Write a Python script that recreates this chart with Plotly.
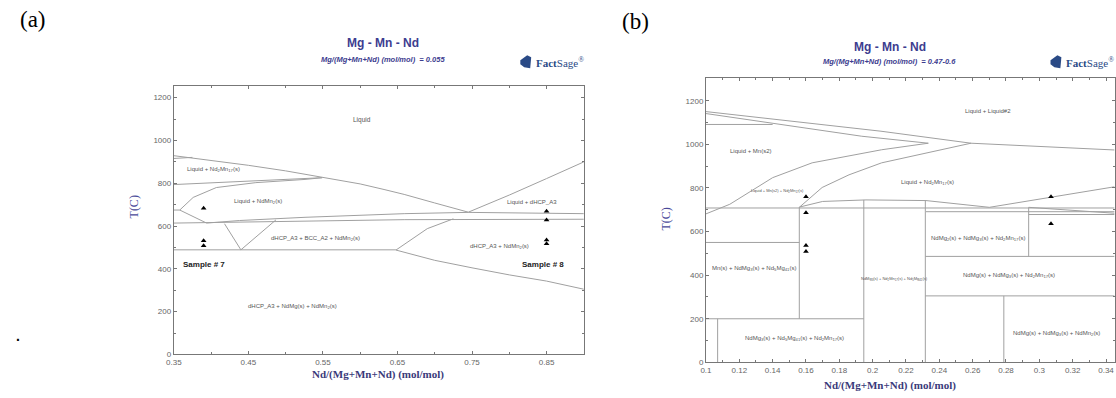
import plotly.graph_objects as go

W, H = 1116, 398
LINE = "#a0a0a0"
BLUE = "#3d3d8f"

# ---------------- Panel (a): Mg/(Mg+Mn+Nd) = 0.055 ----------------
a_liq_x = [0.35, 0.40, 0.45, 0.50, 0.55, 0.60, 0.632, 0.659, 0.70, 0.745]
a_liq_T = [929, 908, 884, 858, 828, 797, 771, 748, 708, 665]
a_rise_x = [0.745, 0.80, 0.85, 0.90]
a_rise_T = [665, 745, 822, 900]
a_short_x = [0.35, 0.375]
a_short_T = [916, 921]
a_l2_x = [0.35, 0.45, 0.549]
a_l2_T = [794, 811, 826]
a_l3_x = [0.358, 0.376, 0.407, 0.460, 0.526, 0.549]
a_l3_T = [675, 734, 780, 803, 818, 826]
a_l4_x = [0.35, 0.358, 0.394]
a_l4_T = [675, 675, 614]
a_l5_x = [0.394, 0.438, 0.526, 0.659, 0.745, 0.90]
a_l5_T = [614, 626, 641, 658, 664, 658]
a_l6_x = [0.35, 0.659, 0.90]
a_l6_T = [614, 630, 632]
a_v_x = [0.418, 0.440, 0.487]
a_v_T = [611, 489, 629]
a_l7_x = [0.35, 0.648]
a_l7_T = [489, 489]
a_up_x = [0.648, 0.668, 0.690, 0.725]
a_up_T = [488, 534, 588, 634]
a_lo_x = [0.648, 0.70, 0.75, 0.80, 0.85, 0.90]
a_lo_T = [488, 440, 405, 372, 343, 305]

a_lines = [(a_liq_x, a_liq_T), (a_rise_x, a_rise_T), (a_short_x, a_short_T),
           (a_l2_x, a_l2_T), (a_l3_x, a_l3_T), (a_l4_x, a_l4_T),
           (a_l5_x, a_l5_T), (a_l6_x, a_l6_T), (a_v_x, a_v_T),
           (a_l7_x, a_l7_T), (a_up_x, a_up_T), (a_lo_x, a_lo_T)]

a_pts_x = [0.39, 0.39, 0.39, 0.85, 0.85, 0.85, 0.85]
a_pts_T = [683, 531, 508, 669, 628, 535, 517]

a_labels = [
    ("Liquid", 0.603, 1094, 6.5, False),
    ("Liquid + Nd<sub>2</sub>Mn<sub>17</sub>(s)", 0.403, 863, 6, False),
    ("Liquid + NdMn<sub>2</sub>(s)", 0.463, 715, 6, False),
    ("dHCP_A3 + BCC_A2 + NdMn<sub>2</sub>(s)", 0.54, 540, 6, False),
    ("Sample # 7", 0.391, 420, 8, True),
    ("Liquid + dHCP_A3", 0.831, 711, 6, False),
    ("dHCP_A3 + NdMn<sub>2</sub>(s)", 0.787, 503, 6, False),
    ("Sample # 8", 0.845, 420, 8, True),
    ("dHCP_A3 + NdMg(s) + NdMn<sub>2</sub>(s)", 0.509, 222, 6, False),
]

# ---------------- Panel (b): Mg/(Mg+Mn+Nd) = 0.47-0.6 ----------------
b_top1_x = [0.10, 0.205, 0.259, 0.345]
b_top1_T = [1150, 1060, 1005, 974]
b_top2_x = [0.10, 0.1935, 0.2334]
b_top2_T = [1141, 1037, 1005]
b_top3_x = [0.10, 0.14]
b_top3_T = [1091, 1091]
b_mn_x = [0.10, 0.1143, 0.14, 0.1637, 0.2054, 0.2334]
b_mn_T = [681, 725, 847, 915, 975, 1005]
b_nd_x = [0.156, 0.1697, 0.1858, 0.2054, 0.259]
b_nd_T = [711, 802, 860, 915, 1005]
b_h708_x = [0.10, 0.345]
b_h708_T = [708, 708]
b_arch_x = [0.156, 0.17, 0.196, 0.232, 0.27, 0.345]
b_arch_T = [712, 738, 745, 742, 711, 805]
b_h691_x = [0.232, 0.345]
b_h691_T = [691, 691]
b_h680_x = [0.2936, 0.345]
b_h680_T = [678, 678]
b_br_x = [0.2936, 0.345]
b_br_T = [711, 684]
b_v1_x = [0.156, 0.156]
b_v1_T = [712, 200]
b_h550_x = [0.10, 0.156]
b_h550_T = [550, 550]
b_v2_x = [0.1947, 0.1947]
b_v2_T = [745, 0]
b_h200_x = [0.10, 0.1947]
b_h200_T = [200, 200]
b_v3_x = [0.107, 0.107]
b_v3_T = [200, 0]
b_v4_x = [0.2316, 0.2316]
b_v4_T = [742, 0]
b_h486_x = [0.2316, 0.345]
b_h486_T = [486, 486]
b_v5_x = [0.2936, 0.2936]
b_v5_T = [711, 486]
b_h305_x = [0.2316, 0.345]
b_h305_T = [305, 305]
b_v6_x = [0.2787, 0.2787]
b_v6_T = [305, 0]

b_lines = [(b_top1_x, b_top1_T), (b_top2_x, b_top2_T), (b_top3_x, b_top3_T),
           (b_mn_x, b_mn_T), (b_nd_x, b_nd_T), (b_h708_x, b_h708_T),
           (b_arch_x, b_arch_T), (b_h691_x, b_h691_T), (b_h680_x, b_h680_T),
           (b_br_x, b_br_T),
           (b_v1_x, b_v1_T), (b_h550_x, b_h550_T), (b_v2_x, b_v2_T),
           (b_h200_x, b_h200_T), (b_v3_x, b_v3_T), (b_v4_x, b_v4_T),
           (b_h486_x, b_h486_T), (b_v5_x, b_v5_T), (b_h305_x, b_h305_T),
           (b_v6_x, b_v6_T)]

b_pts_x = [0.16, 0.16, 0.16, 0.16, 0.307, 0.307]
b_pts_T = [759, 686, 536, 509, 759, 636]

b_labels = [
    ("Liquid + Liquid#2", 0.269, 1154, 6, False),
    ("Liquid + Mn(s2)", 0.127, 968, 6, False),
    ("Liquid + Mn(s2) + Nd<sub>2</sub>Mn<sub>17</sub>(s)", 0.143, 786, 4, False),
    ("Liquid + Nd<sub>2</sub>Mn<sub>17</sub>(s)", 0.233, 827, 6, False),
    ("NdMg<sub>2</sub>(s) + NdMg<sub>3</sub>(s) + Nd<sub>2</sub>Mn<sub>17</sub>(s)", 0.263, 568, 6, False),
    ("NdMg(s) + NdMg<sub>3</sub>(s) + Nd<sub>2</sub>Mn<sub>17</sub>(s)", 0.282, 400, 6, False),
    ("Mn(s) + NdMg<sub>3</sub>(s) + Nd<sub>5</sub>Mg<sub>41</sub>(s)", 0.129, 432, 6, False),
    ("NdMg<sub>3</sub>(s) + Nd<sub>2</sub>Mn<sub>17</sub>(s) + Nd<sub>5</sub>Mg<sub>41</sub>(s)", 0.213, 382, 4, False),
    ("NdMg<sub>3</sub>(s) + Nd<sub>5</sub>Mg<sub>41</sub>(s) + Nd<sub>2</sub>Mn<sub>17</sub>(s)", 0.153, 109, 6, False),
    ("NdMg(s) + NdMg<sub>3</sub>(s) + NdMn<sub>2</sub>(s)", 0.31, 132, 6, False),
]

a_xticks = [0.35, 0.45, 0.55, 0.65, 0.75, 0.85]
b_xticks = [0.10, 0.12, 0.14, 0.16, 0.18, 0.20, 0.22, 0.24, 0.26, 0.28, 0.30, 0.32, 0.34]
y_ticks = [0, 200, 400, 600, 800, 1000, 1200]

fig = go.Figure()

for (xs, ts) in a_lines:
    fig.add_trace(go.Scatter(x=xs, y=ts, mode="lines", line=dict(color=LINE, width=1),
                             xaxis="x", yaxis="y", showlegend=False, hoverinfo="skip"))
for (xs, ts) in b_lines:
    fig.add_trace(go.Scatter(x=xs, y=ts, mode="lines", line=dict(color=LINE, width=1),
                             xaxis="x2", yaxis="y2", showlegend=False, hoverinfo="skip"))
fig.add_trace(go.Scatter(x=a_pts_x, y=a_pts_T, mode="markers", xaxis="x", yaxis="y",
                         marker=dict(symbol="triangle-up", size=5, color="black"),
                         showlegend=False))
fig.add_trace(go.Scatter(x=b_pts_x, y=b_pts_T, mode="markers", xaxis="x2", yaxis="y2",
                         marker=dict(symbol="triangle-up", size=5, color="black"),
                         showlegend=False))

ann = []
for (t, x, y, s, b) in a_labels:
    ann.append(dict(text=("<b>%s</b>" % t) if b else t, x=x, y=y, xref="x", yref="y",
                    showarrow=False, xanchor="center", yanchor="middle",
                    font=dict(family="Arial", size=s, color="#222" if b else "#555")))
for (t, x, y, s, b) in b_labels:
    ann.append(dict(text=t, x=x, y=y, xref="x2", yref="y2", showarrow=False,
                    xanchor="center", yanchor="middle",
                    font=dict(family="Arial", size=s, color="#555")))


def pp(px, py):
    return px / W, 1 - py / H


def paper_ann(text, px, py, size, color, family="Arial", **kw):
    x, y = pp(px, py)
    d = dict(text=text, x=x, y=y, xref="paper", yref="paper", showarrow=False,
             xanchor="center", yanchor="middle",
             font=dict(family=family, size=size, color=color))
    d.update(kw)
    ann.append(d)


paper_ann("(a)", 25, 20, 23, "black", family="Liberation Serif")
paper_ann("(b)", 632, 22, 23, "black", family="Liberation Serif")
paper_ann("<b>Mg - Mn - Nd</b>", 378, 44, 12, BLUE)
paper_ann("<b><i>Mg/(Mg+Mn+Nd) (mol/mol)  = 0.055</i></b>", 378, 60, 7.5, BLUE)
paper_ann("<b>Mg - Mn - Nd</b>", 888, 48, 12, BLUE)
paper_ann("<b><i>Mg/(Mg+Mn+Nd) (mol/mol)  = 0.47-0.6</i></b>", 888, 62, 7.5, BLUE)
paper_ann("<b>Fact</b>Sage<sup>®</sup>", 556, 63, 11, "#2a4a86", family="Liberation Serif")
paper_ann("<b>Fact</b>Sage<sup>®</sup>", 1090, 63, 11, "#2a4a86", family="Liberation Serif")
paper_ann("<b>Nd/(Mg+Mn+Nd) (mol/mol)</b>", 373, 379, 11, "#3a3a7a", family="Liberation Serif")
paper_ann("<b>Nd/(Mg+Mn+Nd) (mol/mol)</b>", 888, 390, 11, "#3a3a7a", family="Liberation Serif")
paper_ann("T(C)", 127, 210, 12, "#4a4a9a", family="Liberation Serif", textangle=-90)
paper_ann("T(C)", 663, 222, 12, "#4a4a9a", family="Liberation Serif", textangle=-90)
paper_ann("<b>.</b>", 10, 340, 14, "black")

shapes = []
for (lx, ly) in [(523, 63), (1057, 63)]:
    pts = [(lx - 7, ly - 2), (lx, ly - 7), (lx + 4, ly - 5), (lx + 3, ly + 6), (lx - 3, ly + 5), (lx - 7, ly + 2)]
    path = "M " + " L ".join("%.4f,%.4f" % pp(a, b) for a, b in pts) + " Z"
    shapes.append(dict(type="path", path=path, xref="paper", yref="paper",
                       fillcolor="#2a4a86", line=dict(width=0)))

axis_common = dict(showline=True, linecolor="#777", linewidth=1, mirror="ticks",
                   ticks="inside", ticklen=3, tickcolor="#777", showgrid=False,
                   zeroline=False, tickfont=dict(family="Arial", size=8, color="#666"))

fig.update_layout(
    width=W, height=H, margin=dict(l=0, r=0, t=0, b=0),
    paper_bgcolor="white", plot_bgcolor="white",
    xaxis=dict(domain=[167 / W, 580 / W], range=[0.35, 0.9], tickvals=a_xticks,
               ticktext=["%.2f" % v for v in a_xticks], anchor="y",
               minor=dict(dtick=0.05, tick0=0.35, ticks="inside", ticklen=2, tickcolor="#777"),
               **axis_common),
    yaxis=dict(domain=[1 - 359 / H, 1 - 87 / H], range=[0, 1255], tickvals=y_ticks,
               anchor="x",
               minor=dict(dtick=100, ticks="inside", ticklen=2, tickcolor="#777"),
               **axis_common),
    xaxis2=dict(domain=[703 / W, 1115 / W], range=[0.1, 0.3454], tickvals=b_xticks,
                ticktext=["%g" % v for v in b_xticks], anchor="y2",
                minor=dict(dtick=0.01, tick0=0.1, ticks="inside", ticklen=2, tickcolor="#777"),
                **axis_common),
    yaxis2=dict(domain=[1 - 367 / H, 1 - 79 / H], range=[0, 1304], tickvals=y_ticks,
                anchor="x2",
                minor=dict(dtick=100, ticks="inside", ticklen=2, tickcolor="#777"),
                **axis_common),
    annotations=ann, shapes=shapes,
)

fig.write_html("out.html", config={"displayModeBar": False},
               post_script="document.body.style.margin='0';document.body.style.overflow='hidden';")
